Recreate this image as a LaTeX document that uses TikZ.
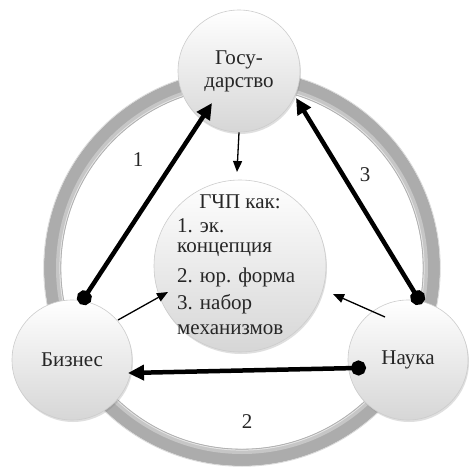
\documentclass[tikz,border=0pt]{standalone}
\usepackage{fontspec}
\setmainfont{Liberation Serif}
\usetikzlibrary{arrows.meta,shadows,calc}
\begin{document}
\begin{tikzpicture}[x=1pt,y=-1pt,
  ball/.style={circle, inner sep=0pt, draw=gray!40, line width=0.6pt,
    top color=white, bottom color=gray!32,
    drop shadow={opacity=0.25, shadow xshift=1pt, shadow yshift=-2pt},
    font=\fontsize{21}{23}\selectfont, text=black!85, align=center},
  lbl/.style={font=\fontsize{21}{23}\selectfont, text=black!85, inner sep=0pt},
  bigarrow/.style={line width=4.5pt, {Circle[length=15pt]}-{Triangle[length=16pt,width=15pt]}},
  smallarrow/.style={line width=1.3pt, -{Triangle[length=11pt,width=9pt]}},
]
\useasboundingbox (0,0) rectangle (472,472);
\fill[white] (0,0) rectangle (472,472);
% ring
\draw[gray!65, line width=17pt] (242,268) circle[radius=189.5];
\draw[gray!45, line width=4pt] (242,268) circle[radius=184];
\draw[white!80!gray, line width=1.2pt] (242,268) circle[radius=182];
\draw[gray!60, line width=0.8pt] (242,268) circle[radius=181.2];
\draw[white!70!gray, line width=0.8pt] (242,268) circle[radius=198.3];
% circles
\node[ball, minimum size=172pt] (gc) at (240,266) {};
\node[ball, minimum size=122pt] (st) at (239,71) {Госу-\\дарство};
\node[ball, minimum size=120pt] (bz) at (72,360) {Бизнес};
\node[ball, minimum size=120pt] (nk) at (408,360) {Наука};
% central text
\node[lbl] (t0) at (240,202) {ГЧП как:};
\node[lbl, anchor=mid west] (t1) at (177,230) {1. эк.};
\node[lbl, anchor=mid west] (t2) at (177,250) {концепция};
\node[lbl, anchor=mid west] (t3) at (177,280) {2. юр. форма};
\node[lbl, anchor=mid west] (t4) at (177,307) {3. набор};
\node[lbl, anchor=mid west] (t5) at (177,332) {механизмов};
% connector end points
\coordinate (b1) at (80.2,304);
\coordinate (s1) at (212,103);
\coordinate (n3) at (421.6,304);
\coordinate (s3) at (296,98);
\coordinate (n2) at (366,367.8);
\coordinate (b2) at (128,373);
\coordinate (c1) at (237,172);
\coordinate (bs) at (118,320);
\coordinate (c2) at (168,292);
\coordinate (ns) at (385,317);
\coordinate (c3) at (333,294);
% thick arrows
\draw[bigarrow] (b1) -- (s1);
\draw[bigarrow] (n3) -- (s3);
\draw[bigarrow] (n2) -- (b2);
% thin arrows
\draw[smallarrow] (st.south) -- (c1);
\draw[smallarrow] (bs) -- (c2);
\draw[smallarrow] (ns) -- (c3);
% labels
\node[lbl] (l1) at (138,160) {1};
\node[lbl] (l3) at (365,175) {3};
\node[lbl] (l2) at (247,422) {2};
\end{tikzpicture}
\end{document}
